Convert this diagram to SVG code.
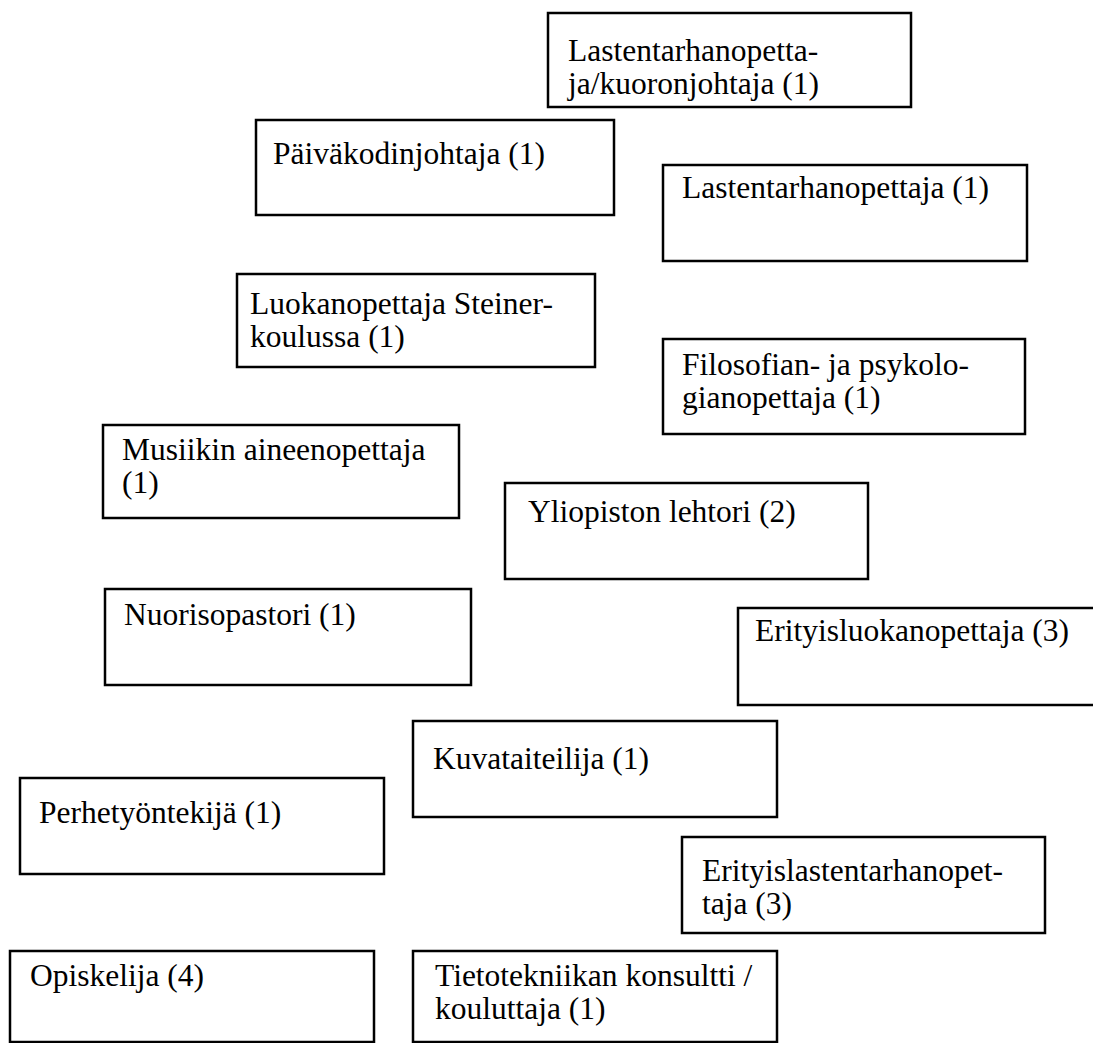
<svg xmlns="http://www.w3.org/2000/svg" width="1093" height="1043" viewBox="0 0 1093 1043">
<style>
rect.box{fill:#fff;stroke:#000;stroke-width:2.5}
text{font-family:"Liberation Serif","Times New Roman",serif;font-size:31.5px;fill:#000}
</style>
<rect x="0" y="0" width="1093" height="1043" fill="#fff"/>
<g id="connectors"></g>
<g id="n1"><rect class="box" x="548" y="13" width="363" height="94"/><text x="568" y="61">Lastentarhanopetta-</text><text x="568" y="94">ja/kuoronjohtaja (1)</text></g>
<g id="n2"><rect class="box" x="256" y="120" width="358" height="95"/><text x="273" y="164">Päiväkodinjohtaja (1)</text></g>
<g id="n3"><rect class="box" x="663" y="165" width="364" height="96"/><text x="682" y="198">Lastentarhanopettaja (1)</text></g>
<g id="n4"><rect class="box" x="237" y="274" width="358" height="93"/><text x="250" y="314">Luokanopettaja Steiner-</text><text x="250" y="347">koulussa (1)</text></g>
<g id="n5"><rect class="box" x="663" y="339" width="362" height="95"/><text x="682" y="375">Filosofian- ja psykolo-</text><text x="682" y="408">gianopettaja (1)</text></g>
<g id="n6"><rect class="box" x="103" y="425" width="356" height="93"/><text x="122" y="460">Musiikin aineenopettaja</text><text x="122" y="493">(1)</text></g>
<g id="n7"><rect class="box" x="505" y="483" width="363" height="96"/><text x="528" y="522">Yliopiston lehtori (2)</text></g>
<g id="n8"><rect class="box" x="105" y="589" width="366" height="96"/><text x="124" y="625">Nuorisopastori (1)</text></g>
<g id="n9"><rect class="box" x="738" y="608" width="400" height="97"/><text x="755" y="641">Erityisluokanopettaja (3)</text></g>
<g id="n10"><rect class="box" x="413" y="721" width="364" height="96"/><text x="433" y="769">Kuvataiteilija (1)</text></g>
<g id="n11"><rect class="box" x="20" y="778" width="364" height="96"/><text x="39" y="823">Perhetyöntekijä (1)</text></g>
<g id="n12"><rect class="box" x="682" y="837" width="363" height="96"/><text x="702" y="881">Erityislastentarhanopet-</text><text x="702" y="914">taja (3)</text></g>
<g id="n13"><rect class="box" x="10" y="951" width="364" height="91"/><text x="30" y="986">Opiskelija (4)</text></g>
<g id="n14"><rect class="box" x="413" y="951" width="364" height="91"/><text x="435" y="986">Tietotekniikan konsultti /</text><text x="435" y="1019">kouluttaja (1)</text></g>
</svg>
